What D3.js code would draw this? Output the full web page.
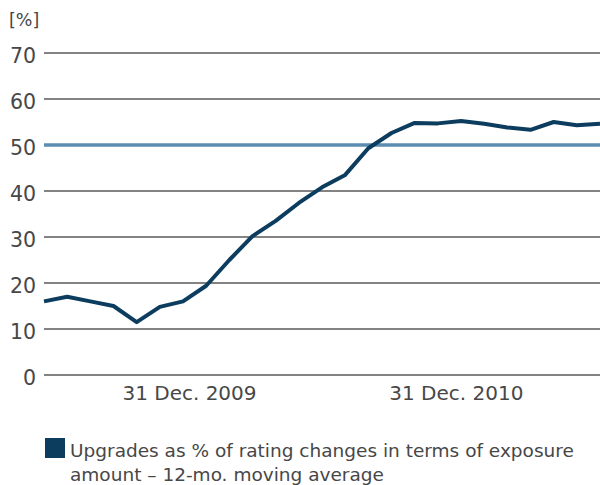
<!DOCTYPE html>
<html>
<head>
<meta charset="utf-8">
<script src="https://cdn.jsdelivr.net/npm/d3@7"></script>
<style>
  body { margin: 0; background: #fff; }
  svg text { font-family: "DejaVu Sans", sans-serif; fill: #474747; }
</style>
</head>
<body>
<div id="chart"></div>
<script>
// monthly values, 12-mo moving average
let values = [16.0, 17.0, 16.0, 15.0, 11.5, 14.8, 16.0, 19.4, 25.0, 30.2,
              33.5, 37.4, 40.8, 43.5, 49.3, 52.6, 54.8, 54.7, 55.2, 54.6,
              53.8, 53.3, 55.0, 54.3, 54.6];
let yTicks = [0, 10, 20, 30, 40, 50, 60, 70];
let xLabels = [{pos: 6.28, text: "31 Dec. 2009"}, {pos: 17.8, text: "31 Dec. 2010"}];
let threshold = 50;
let unitLabel = "[%]";
let legendLines = ["Upgrades as % of rating changes in terms of exposure",
                   "amount \u2013 12-mo. moving average"];

let width = 600, height = 485;
let svg = d3.select("#chart").append("svg")
    .attr("width", width)
    .attr("height", height);

let x = d3.scaleLinear().domain([0, values.length - 1]).range([44, 600]);
let y = d3.scaleLinear().domain([0, 70]).range([375, 53]);

// gridlines
svg.append("g")
  .selectAll("line")
  .data(yTicks.filter(d => d !== threshold))
  .join("line")
    .attr("x1", 44).attr("x2", width)
    .attr("y1", d => y(d)).attr("y2", d => y(d))
    .attr("stroke", "#5a5a5a")
    .attr("stroke-width", 1.5);

// y labels
svg.append("g")
  .selectAll("text")
  .data(yTicks)
  .join("text")
    .attr("x", 36)
    .attr("y", d => y(d) + 10)
    .attr("text-anchor", "end")
    .style("font-size", "20.5px")
    .text(d => d);

svg.append("text")
  .attr("x", 9).attr("y", 26)
  .style("font-size", "17.5px")
  .text(unitLabel);

// 50% line
svg.append("line")
  .attr("x1", 44).attr("x2", width)
  .attr("y1", y(threshold)).attr("y2", y(threshold))
  .attr("stroke", "#5b8db2")
  .attr("stroke-width", 3.5);

// series
let line = d3.line()
    .x((d, i) => x(i))
    .y(d => y(d));

svg.append("path")
  .datum(values)
  .attr("fill", "none")
  .attr("stroke", "#0c3d5f")
  .attr("stroke-width", 4)
  .attr("stroke-linejoin", "round")
  .attr("d", line);

// x labels
svg.append("g")
  .selectAll("text")
  .data(xLabels)
  .join("text")
    .attr("x", d => x(d.pos))
    .attr("y", 400)
    .attr("text-anchor", "middle")
    .style("font-size", "20px")
    .text(d => d.text);

// legend
svg.append("rect")
  .attr("x", 45).attr("y", 438)
  .attr("width", 20).attr("height", 20)
  .attr("fill", "#0c3d5f");

svg.append("g")
  .selectAll("text")
  .data(legendLines)
  .join("text")
    .attr("x", 70)
    .attr("y", (d, i) => 457 + i * 24)
    .style("font-size", "18.5px")
    .text(d => d);
</script>
</body>
</html>
